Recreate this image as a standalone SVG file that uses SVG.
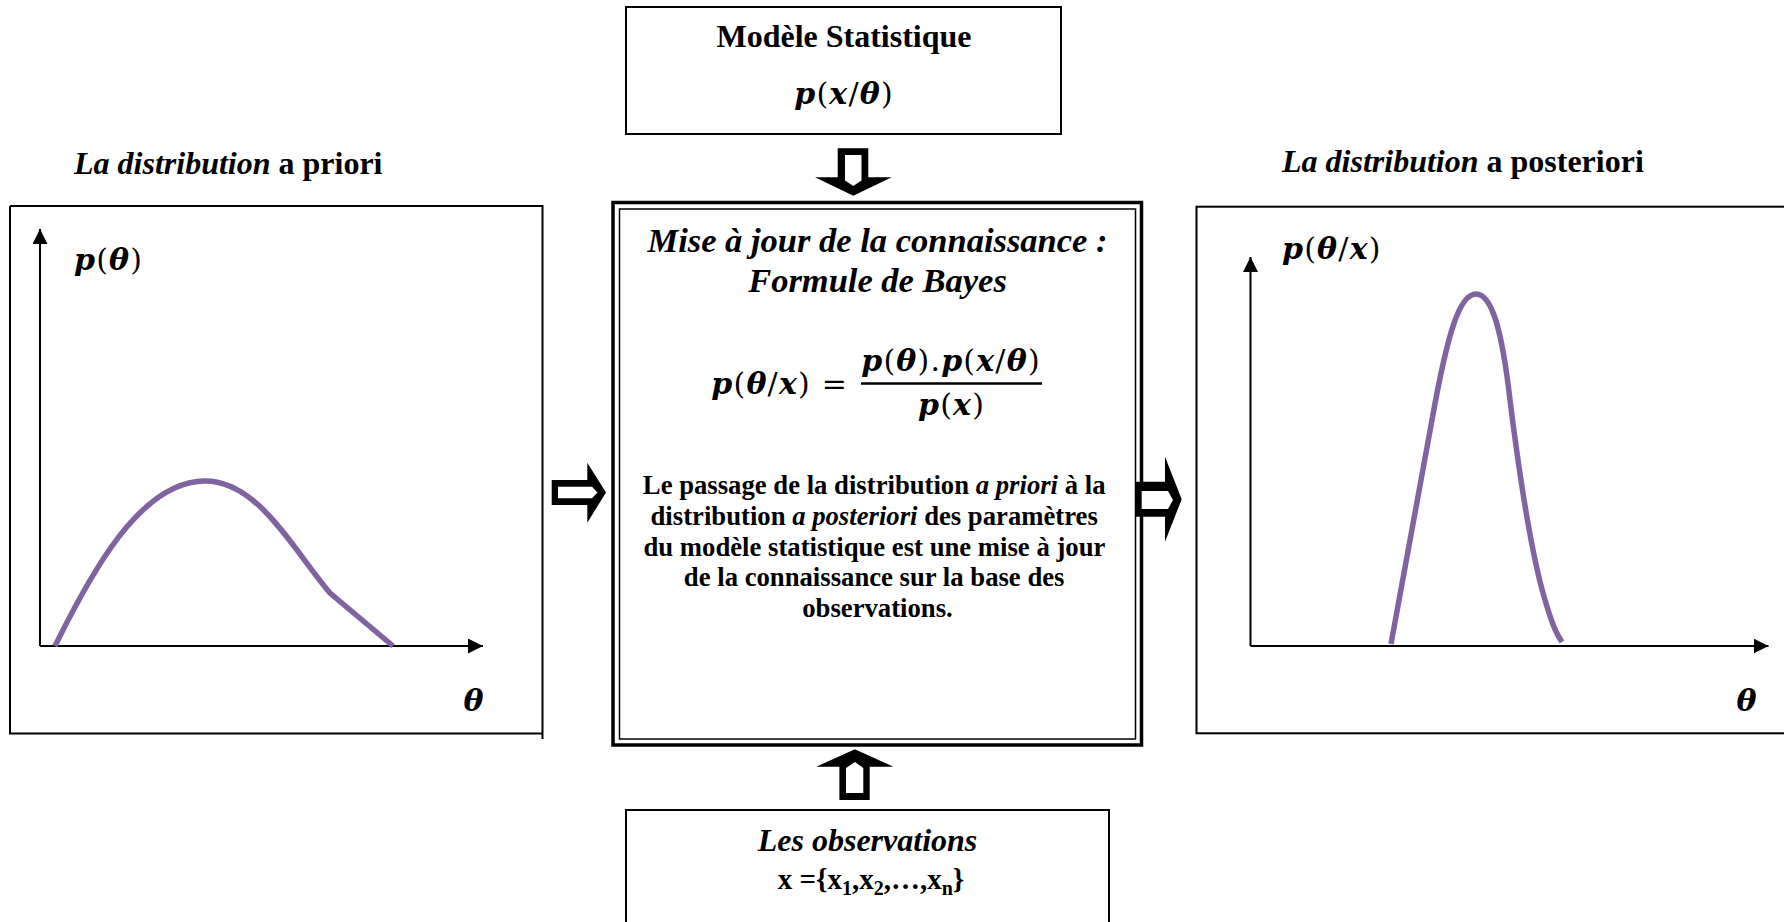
<svg xmlns="http://www.w3.org/2000/svg" width="1784" height="922" viewBox="0 0 1784 922">
<defs>
<style>
.box{fill:#fff;stroke:#000;stroke-width:2}
.ttl{font-family:"Liberation Serif","Times New Roman",serif;font-size:32px;font-weight:bold;fill:#000}
.bi{font-style:italic}
.para{font-family:"Liberation Serif","Times New Roman",serif;font-size:26.7px;font-weight:bold;fill:#000}
.math{font-family:"DejaVu Serif",serif;font-size:30px;letter-spacing:1.2px;fill:#000}
.mi{font-weight:bold;font-style:italic}
.axis{stroke:#000;stroke-width:2;fill:none}
.curve{stroke:#8064A2;stroke-width:5.5;fill:none}
.blk{fill:#000}
.hol{fill:#fff}
</style>
<marker id="ah" markerUnits="userSpaceOnUse" markerWidth="16" markerHeight="16" refX="15" refY="7.5" orient="auto">
<path d="M0,0 L15,7.5 L0,15 z" fill="#000"/>
</marker>
</defs>
<rect x="0" y="0" width="1784" height="922" fill="#fff"/>

<g id="node-model">
<rect class="box" x="626" y="7" width="435" height="127"/>
<text class="ttl" x="844" y="47" text-anchor="middle">Modèle Statistique</text>
<text class="math" x="844" y="104" text-anchor="middle"><tspan class="mi">p</tspan>(<tspan class="mi">x</tspan>/<tspan class="mi">θ</tspan>)</text>
</g>

<g id="node-prior">
<text class="ttl" x="74" y="174"><tspan class="bi">La distribution</tspan> a priori</text>
<path d="M10,206 H542.5 V739 M542.5,733.5 H10 V206" class="axis"/>
<line class="axis" x1="40" y1="646" x2="40" y2="229" marker-end="url(#ah)"/>
<line class="axis" x1="40" y1="646" x2="483" y2="646" marker-end="url(#ah)"/>
<text class="math" x="74" y="270"><tspan class="mi">p</tspan>(<tspan class="mi">θ</tspan>)</text>
<text class="math mi" x="474" y="711" text-anchor="middle">θ</text>
<path class="curve" d="M55,646 C90,575 140,481 205,481 C258,481 292,548 330,593 L393,646"/>
</g>

<g id="node-update">
<rect x="613" y="202.5" width="528.5" height="542.5" fill="#fff" stroke="#000" stroke-width="3.5"/>
<rect x="619.5" y="209" width="516" height="530" fill="none" stroke="#000" stroke-width="1.5"/>
<text class="ttl bi" x="877.5" y="252" text-anchor="middle" style="font-size:34.5px">Mise à jour de la connaissance :</text>
<text class="ttl bi" x="877.5" y="292" text-anchor="middle" style="font-size:34.5px">Formule de Bayes</text>
<text class="math" x="848" y="394" text-anchor="end"><tspan class="mi">p</tspan>(<tspan class="mi">θ</tspan>/<tspan class="mi">x</tspan>) =</text>
<text class="math" x="951" y="371" text-anchor="middle"><tspan class="mi">p</tspan>(<tspan class="mi">θ</tspan>).<tspan class="mi">p</tspan>(<tspan class="mi">x</tspan>/<tspan class="mi">θ</tspan>)</text>
<line x1="861" y1="383.5" x2="1042" y2="383.5" stroke="#000" stroke-width="2.5"/>
<text class="math" x="951.5" y="415" text-anchor="middle"><tspan class="mi">p</tspan>(<tspan class="mi">x</tspan>)</text>
<text class="para" text-anchor="middle">
<tspan x="877.5" y="494">Le passage de la distribution <tspan class="bi">a priori</tspan> à la</tspan>
<tspan x="877.5" y="525">distribution <tspan class="bi">a posteriori</tspan> des paramètres</tspan>
<tspan x="877.5" y="555.5">du modèle statistique est une mise à jour</tspan>
<tspan x="877.5" y="586">de la connaissance sur la base des</tspan>
<tspan x="877.5" y="617">observations.</tspan>
</text>
</g>

<g id="node-posterior">
<text class="ttl" x="1282" y="172"><tspan class="bi">La distribution</tspan> a posteriori</text>
<rect class="box" x="1196.5" y="206.7" width="600" height="526.6"/>
<line class="axis" x1="1250.5" y1="646" x2="1250.5" y2="257" marker-end="url(#ah)"/>
<line class="axis" x1="1250.5" y1="646" x2="1768.5" y2="646" marker-end="url(#ah)"/>
<text class="math" x="1282" y="259"><tspan class="mi">p</tspan>(<tspan class="mi">θ</tspan>/<tspan class="mi">x</tspan>)</text>
<text class="math mi" x="1747" y="711" text-anchor="middle">θ</text>
<path class="curve" d="M1391,644 L1432,420 C1448,330 1460,294 1476,294 C1492,294 1502,330 1510,400 C1520,480 1533,560 1545,600 C1551,620 1555,632 1562,642"/>
</g>

<g id="node-observations">
<rect class="box" x="626" y="810" width="483" height="130"/>
<text class="ttl bi" x="867.5" y="851" text-anchor="middle">Les observations</text>
<text class="ttl" x="871" y="889" text-anchor="middle" style="font-size:29px">x ={x<tspan style="font-size:20px" dy="6">1</tspan><tspan dy="-6">,x</tspan><tspan style="font-size:20px" dy="6">2</tspan><tspan dy="-6">,…,x</tspan><tspan style="font-size:20px" dy="6">n</tspan><tspan dy="-6">}</tspan></text>
</g>

<g id="connectors">
<g id="arrow-model-update">
<polygon class="blk" points="837.7,148.3 868.3,148.3 868.3,177.3 891.7,177.3 853.3,195.7 815,177.3 837.7,177.3"/>
<polygon class="hol" points="845,155 861.5,155 861.5,180.5 853.3,186 845,180.5"/>
</g>
<g id="arrow-obs-update">
<polygon class="blk" points="839.4,800 869.7,800 869.7,766.7 893.4,766.7 854.9,749.3 816.3,766.7 839.4,766.7"/>
<polygon class="hol" points="846,793 863.3,793 863.3,768 855,762 846,768"/>
</g>
<g id="arrow-prior-update">
<polygon class="blk" points="551.7,480 587.3,480 587.3,462.7 606,492.5 587.3,522.7 587.3,505 551.7,505"/>
<polygon class="hol" points="558,486.7 592,486.7 597.5,492.5 592,498.3 558,498.3"/>
</g>
<g id="arrow-update-posterior">
<polygon class="blk" points="1136,481.7 1165,481.7 1165,456.7 1181.7,499.2 1165,541.7 1165,516.7 1136,516.7"/>
<polygon class="hol" points="1141.7,491 1168,491 1173,500 1168,509 1141.7,509"/>
</g>
</g>
</svg>
